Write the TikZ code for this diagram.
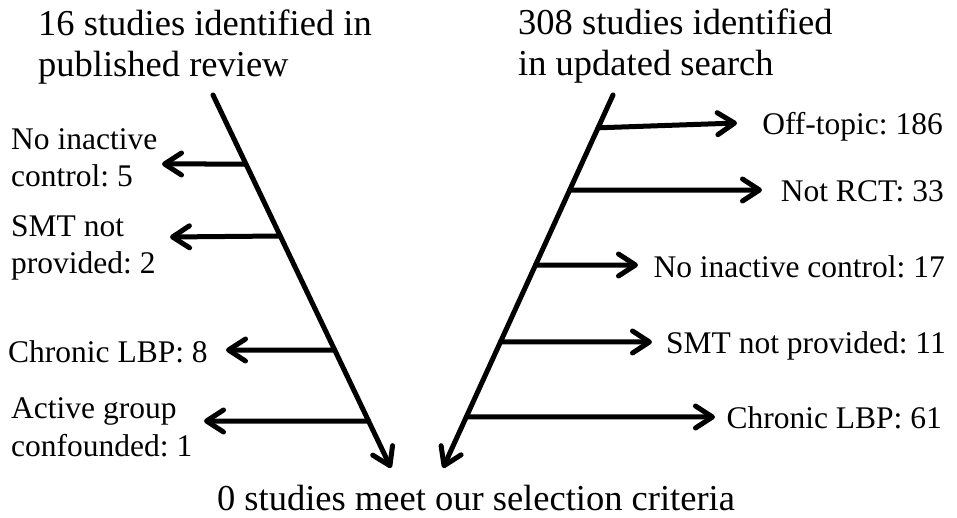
\documentclass[tikz,border=0pt]{standalone}
\usepackage{fontspec}
\setmainfont{Liberation Serif}
\usetikzlibrary{arrows.meta,calc}
\frenchspacing
\begin{document}
\begin{tikzpicture}[x=1pt,y=-1pt,
  flow/.style={line width=5pt, line cap=round,
    -{Straight Barb[length=17pt,width=22pt,line cap=round,line join=round]}},
  title/.style={font=\fontsize{36.5}{41}\selectfont\frenchspacing, inner sep=0pt, align=left},
  lab/.style={font=\fontsize{31.5}{37.5}\selectfont\frenchspacing, inner sep=0pt, align=left}]
\useasboundingbox (0,0) rectangle (957,518);

% titles (base anchor = baseline of the last line)
\node[title, anchor=base west] (tl) at (38,77) {16 studies identified in\\published review};
\node[title, anchor=base west] (tr) at (518,76) {308 studies identified\\in updated search};
\node[title, anchor=base] (bot) at (476,510) {0 studies meet our selection criteria};

% main arrows
\coordinate (Ltop) at (213,95);
\coordinate (Ltip) at (391,468);
\coordinate (Rtop) at (613,95);
\coordinate (Rtip) at (443,468);
\draw[flow] (Ltop) -- (Ltip);
\draw[flow] (Rtop) -- (Rtip);

% left labels
\node[lab, anchor=base west] (l1) at (11,187) {No inactive\\control: 5};
\node[lab, anchor=base west] (l2) at (11,274) {SMT not\\provided: 2};
\node[lab, anchor=base west] (l3) at (8,362) {Chronic LBP: 8};
\node[lab, anchor=base west] (l4) at (11,456) {Active group\\confounded: 1};

% right labels
\node[lab, anchor=base east] (r1) at (943,135) {Off-topic: 186};
\node[lab, anchor=base east] (r2) at (944,202) {Not RCT: 33};
\node[lab, anchor=base east] (r3) at (945,278) {No inactive control: 17};
\node[lab, anchor=base east] (r4) at (946,353) {SMT not provided: 11};
\node[lab, anchor=base east] (r5) at (942,428) {Chronic LBP: 61};

% left branches
\coordinate (la) at ($(Ltop)!0.185!(Ltip)$);
\coordinate (lb) at ($(Ltop)!0.378!(Ltip)$);
\coordinate (lc) at ($(Ltop)!0.684!(Ltip)$);
\coordinate (ld) at ($(Ltop)!0.874!(Ltip)$);
\coordinate (lae) at (162,164);
\coordinate (lbe) at (170,237);
\coordinate (lce) at (226,350);
\coordinate (lde) at (204,421);
\draw[flow] (la) -- (lae);
\draw[flow] (lb) -- (lbe);
\draw[flow] (lc) -- (lce);
\draw[flow] (ld) -- (lde);

% right branches
\coordinate (ra) at ($(Rtop)!0.088!(Rtip)$);
\coordinate (rb) at ($(Rtop)!0.255!(Rtip)$);
\coordinate (rc) at ($(Rtop)!0.456!(Rtip)$);
\coordinate (rd) at ($(Rtop)!0.662!(Rtip)$);
\coordinate (re) at ($(Rtop)!0.863!(Rtip)$);
\coordinate (rae) at (737,123);
\coordinate (rbe) at (762,190);
\coordinate (rce) at (638,265);
\coordinate (rde) at (652,342);
\coordinate (ree) at (715,417);
\draw[flow] (ra) -- (rae);
\draw[flow] (rb) -- (rbe);
\draw[flow] (rc) -- (rce);
\draw[flow] (rd) -- (rde);
\draw[flow] (re) -- (ree);
\end{tikzpicture}
\end{document}
